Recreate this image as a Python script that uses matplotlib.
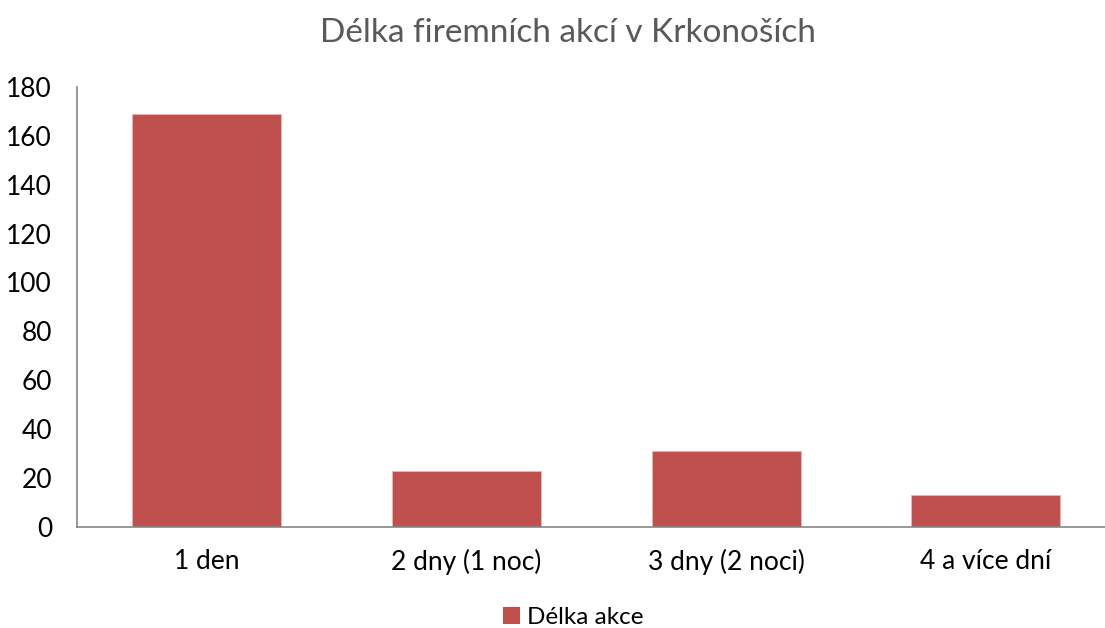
import matplotlib
matplotlib.use("Agg")
import matplotlib.pyplot as plt
from matplotlib.patches import Patch

categories = ["1 den", "2 dny (1 noc)", "3 dny (2 noci)", "4 a více dní"]
values = [169, 23, 31, 13]
series_name = "Délka akce"
title = "Délka firemních akcí v Krkonoších"
y_ticks = [0, 20, 40, 60, 80, 100, 120, 140, 160, 180]

plt.rcParams["font.family"] = ["Lato", "DejaVu Sans"]

BAR_COLOR = "#C0504D"
AXIS_COLOR = "#868686"

fig = plt.figure(figsize=(11.05, 6.28), dpi=100)
ax = fig.add_axes([0.0697, 0.161, 0.94, 0.7005])

x = list(range(len(categories)))
ax.bar(x, values, width=0.573, color=BAR_COLOR, edgecolor="#E6B9B8", linewidth=0.6)

ax.set_xlim(-0.5, len(categories) - 0.5)
ax.set_ylim(0, 180)
ax.set_yticks(y_ticks)
ax.set_yticklabels([str(t) for t in y_ticks], fontsize=19)
ax.set_xticks(x)
ax.set_xticklabels(categories, fontsize=19)
ax.tick_params(axis="both", length=0, colors="black")
ax.tick_params(axis="y", pad=18)
ax.tick_params(axis="x", pad=16)

for side in ["top", "right"]:
    ax.spines[side].set_visible(False)
for side in ["left", "bottom"]:
    ax.spines[side].set_color(AXIS_COLOR)
    ax.spines[side].set_linewidth(1.2)

fig.text(0.514, 0.947, title, ha="center", va="center", fontsize=24, color="#595959")

handle = Patch(facecolor=BAR_COLOR, label=series_name)
fig.legend(handles=[handle], loc="center", bbox_to_anchor=(0.519, 0.017), frameon=False,
           fontsize=17.5, handlelength=0.7, handleheight=0.7, handletextpad=0.3,
           borderpad=0)

fig.savefig("out.png", dpi=100)
